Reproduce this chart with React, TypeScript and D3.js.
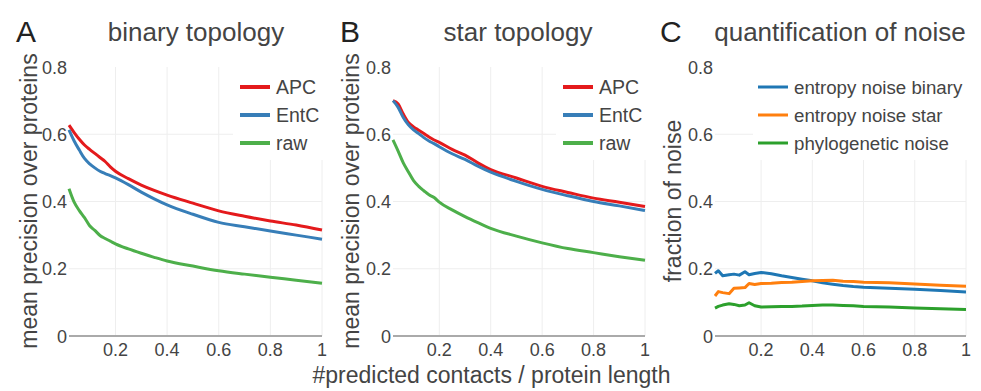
import React from "react";
import * as d3 from "d3";

// ---------- data ----------
const xPrec = [0.02, 0.04, 0.06, 0.08, 0.1, 0.12, 0.14, 0.16, 0.18, 0.2, 0.25, 0.3, 0.35, 0.4, 0.5, 0.6, 0.7, 0.8, 0.9, 1.0];

const binaryAPC = [0.627, 0.605, 0.585, 0.568, 0.555, 0.543, 0.531, 0.519, 0.503, 0.49, 0.468, 0.449, 0.433, 0.419, 0.395, 0.372, 0.356, 0.342, 0.33, 0.315];
const binaryEntC = [0.613, 0.58, 0.553, 0.528, 0.512, 0.5, 0.49, 0.483, 0.477, 0.47, 0.45, 0.428, 0.408, 0.39, 0.362, 0.338, 0.325, 0.312, 0.3, 0.288];
const binaryRaw = [0.438, 0.398, 0.373, 0.352, 0.328, 0.314, 0.299, 0.29, 0.282, 0.274, 0.259, 0.246, 0.234, 0.223, 0.208, 0.194, 0.184, 0.175, 0.166, 0.157];

const starAPC = [0.7, 0.69, 0.66, 0.635, 0.622, 0.612, 0.602, 0.592, 0.583, 0.576, 0.555, 0.538, 0.515, 0.495, 0.47, 0.445, 0.427, 0.41, 0.398, 0.385];
const starEntC = [0.7, 0.68, 0.65, 0.628, 0.613, 0.602, 0.59, 0.58, 0.572, 0.563, 0.542, 0.525, 0.505, 0.487, 0.46, 0.436, 0.417, 0.4, 0.387, 0.373];
const starRaw = [0.583, 0.55, 0.515, 0.488, 0.462, 0.445, 0.432, 0.42, 0.412, 0.398, 0.375, 0.355, 0.337, 0.32, 0.297, 0.277, 0.26, 0.248, 0.236, 0.225];

const xNoise = [0.02, 0.033, 0.05, 0.075, 0.094, 0.115, 0.137, 0.153, 0.175, 0.2, 0.24, 0.28, 0.32, 0.36, 0.4, 0.44, 0.48, 0.52, 0.56, 0.6, 0.7, 0.8, 0.9, 1.0];
const noiseEntropyBinary = [0.186, 0.194, 0.179, 0.182, 0.184, 0.181, 0.191, 0.182, 0.186, 0.189, 0.185, 0.179, 0.174, 0.169, 0.164, 0.158, 0.154, 0.15, 0.147, 0.145, 0.142, 0.139, 0.135, 0.131];
const noiseEntropyStar = [0.119, 0.132, 0.129, 0.126, 0.142, 0.143, 0.144, 0.156, 0.153, 0.156, 0.157, 0.159, 0.16, 0.162, 0.164, 0.165, 0.166, 0.163, 0.162, 0.16, 0.158, 0.155, 0.151, 0.148];
const noisePhylo = [0.083, 0.088, 0.092, 0.096, 0.094, 0.09, 0.092, 0.099, 0.09, 0.086, 0.087, 0.088, 0.088, 0.089, 0.091, 0.092, 0.092, 0.091, 0.09, 0.088, 0.086, 0.083, 0.081, 0.079];

const xTicks = [0.2, 0.4, 0.6, 0.8, 1];
const yTicks = [0, 0.2, 0.4, 0.6, 0.8];
const panelLetters = ["A", "B", "C"];
const panelTitles = ["binary topology", "star topology", "quantification of noise"];
const precisionNames = ["APC", "EntC", "raw"];
const noiseNames = ["entropy noise binary", "entropy noise star", "phylogenetic noise"];
const yTitles = ["mean precision over proteins", "mean precision over proteins", "fraction of noise"];
const xTitle = "#predicted contacts / protein length";

// ---------- layout ----------
const FONT = "'Liberation Sans', Arial, Helvetica, sans-serif";
const TEXT = "#444";
const setColors = ["#e41a1c", "#377eb8", "#4daf4a"];
const noiseColors = ["#1f77b4", "#ff7f0e", "#2ca02c"];

type Series = { name: string; x: number[]; y: number[]; color: string };
type Panel = {
  letter: string;
  title: string;
  yTitle: string;
  left: number;
  right: number;
  letterX: number;
  titleX: number;
  yTitleX: number;
  legendX: number;
  legendBg: [number, number];
  legendLineW: number;
  legendFont: number;
  curve: d3.CurveFactory;
  series: Series[];
};

const TOP = 67;
const BOTTOM = 336;

const panels: Panel[] = [
  {
    letter: panelLetters[0],
    title: panelTitles[0],
    yTitle: yTitles[0],
    left: 69,
    right: 322,
    letterX: 16,
    titleX: 196,
    yTitleX: 37,
    legendX: 240,
    legendBg: [233, 331],
    legendLineW: 4,
    legendFont: 19.5,
    curve: d3.curveMonotoneX,
    series: [
      { name: precisionNames[0], x: xPrec, y: binaryAPC, color: setColors[0] },
      { name: precisionNames[1], x: xPrec, y: binaryEntC, color: setColors[1] },
      { name: precisionNames[2], x: xPrec, y: binaryRaw, color: setColors[2] },
    ],
  },
  {
    letter: panelLetters[1],
    title: panelTitles[1],
    yTitle: yTitles[1],
    left: 393,
    right: 645,
    letterX: 340,
    titleX: 518,
    yTitleX: 359,
    legendX: 563,
    legendBg: [556, 650],
    legendLineW: 4,
    legendFont: 19.5,
    curve: d3.curveMonotoneX,
    series: [
      { name: precisionNames[0], x: xPrec, y: starAPC, color: setColors[0] },
      { name: precisionNames[1], x: xPrec, y: starEntC, color: setColors[1] },
      { name: precisionNames[2], x: xPrec, y: starRaw, color: setColors[2] },
    ],
  },
  {
    letter: panelLetters[2],
    title: panelTitles[2],
    yTitle: yTitles[2],
    left: 715,
    right: 966,
    letterX: 660,
    titleX: 840,
    yTitleX: 681,
    legendX: 758,
    legendBg: [753, 978],
    legendLineW: 3,
    legendFont: 18.7,
    curve: d3.curveLinear,
    series: [
      { name: noiseNames[0], x: xNoise, y: noiseEntropyBinary, color: noiseColors[0] },
      { name: noiseNames[1], x: xNoise, y: noiseEntropyStar, color: noiseColors[1] },
      { name: noiseNames[2], x: xNoise, y: noisePhylo, color: noiseColors[2] },
    ],
  },
];

function PanelView({ p }: { p: Panel }) {
  const x = d3.scaleLinear().domain([0.02, 1]).range([p.left, p.right]);
  const y = d3.scaleLinear().domain([0, 0.8]).range([BOTTOM, TOP]);
  const midY = (TOP + BOTTOM) / 2 - 0.5;
  const legendRows = [87, 115, 143];
  return (
    <g>
      {/* grid */}
      {xTicks.map((t) => (
        <line key={"gx" + t} x1={x(t)} x2={x(t)} y1={TOP} y2={BOTTOM} stroke="#eee" strokeWidth={1} />
      ))}
      {yTicks.filter((t) => t > 0 && t < 0.8).map((t) => (
        <line key={"gy" + t} x1={p.left} x2={p.right} y1={y(t)} y2={y(t)} stroke="#eee" strokeWidth={1} />
      ))}
      {/* legend background */}
      <rect x={p.legendBg[0]} y={TOP - 2} width={p.legendBg[1] - p.legendBg[0]} height={162 - TOP} fill="#fff" />
      {/* zero line */}
      <line x1={p.left} x2={p.right} y1={y(0)} y2={y(0)} stroke="#aaa" strokeWidth={2} />
      {/* series */}
      {p.series.map((s) => {
        const pts: [number, number][] = s.x.map((xv, i) => [xv, s.y[i]]);
        const path = d3
          .line<[number, number]>()
          .x((d) => x(d[0]))
          .y((d) => y(d[1]))
          .curve(p.curve)(pts);
        return <path key={s.name} d={path || ""} fill="none" stroke={s.color} strokeWidth={3} strokeLinejoin="round" />;
      })}
      {/* tick labels */}
      {xTicks.map((t) => (
        <text key={"tx" + t} x={x(t)} y={356} textAnchor="middle" fontSize={18} fill={TEXT} fontFamily={FONT}>
          {d3.format("~g")(t)}
        </text>
      ))}
      {yTicks.map((t) => (
        <text key={"ty" + t} x={p.left - 2} y={y(t) + 6.5} textAnchor="end" fontSize={18} fill={TEXT} fontFamily={FONT}>
          {d3.format("~g")(t)}
        </text>
      ))}
      {/* legend */}
      {p.series.map((s, i) => (
        <g key={"lg" + s.name}>
          <line x1={p.legendX} x2={p.legendX + 30} y1={legendRows[i]} y2={legendRows[i]} stroke={s.color} strokeWidth={p.legendLineW} />
          <text x={p.legendX + 36} y={legendRows[i] + 6.5} fontSize={p.legendFont} fill={TEXT} fontFamily={FONT}>
            {s.name}
          </text>
        </g>
      ))}
      {/* titles */}
      <text x={p.letterX} y={42} fontSize={30} fill="#222" fontFamily={FONT}>
        {p.letter}
      </text>
      <text x={p.titleX} y={41} fontSize={26} textAnchor="middle" fill={TEXT} fontFamily={FONT}>
        {p.title}
      </text>
      <text
        transform={`translate(${p.yTitleX},${midY}) rotate(-90)`}
        textAnchor="middle"
        fontSize={23}
        fill={TEXT}
        fontFamily={FONT}
      >
        {p.yTitle}
      </text>
    </g>
  );
}

export default function App() {
  return (
    <svg
      width={981}
      height={391}
      style={{ position: "absolute", left: 0, top: 0, background: "#fff", display: "block" }}
    >
      <rect x={0} y={0} width={981} height={391} fill="#fff" />
      {panels.map((p) => (
        <PanelView key={p.letter} p={p} />
      ))}
      <text x={491.5} y={383} textAnchor="middle" fontSize={23} fill={TEXT} fontFamily={FONT}>
        {xTitle}
      </text>
    </svg>
  );
}
